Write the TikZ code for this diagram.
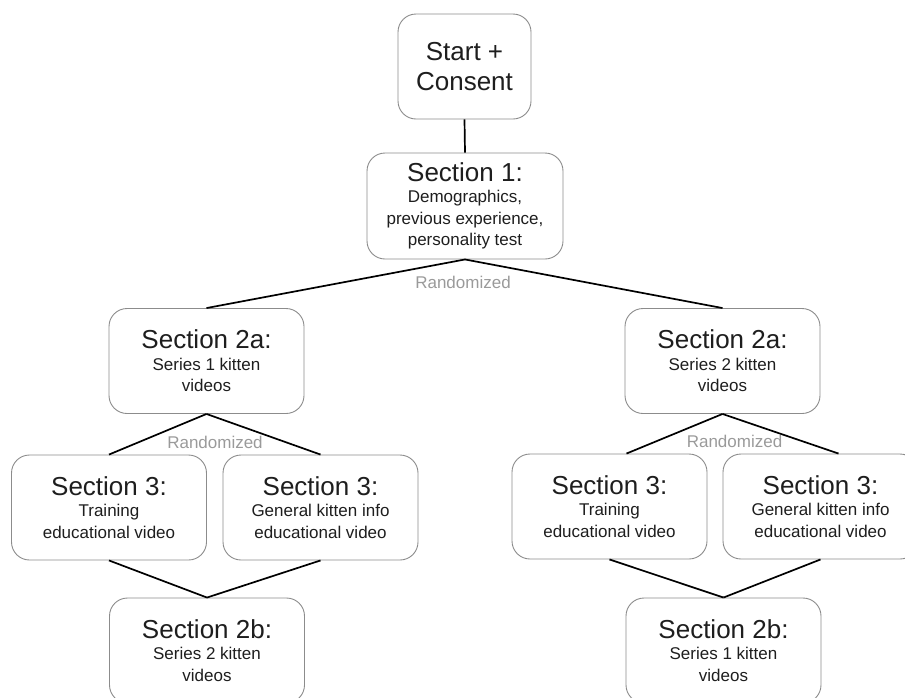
\documentclass[tikz,border=0pt]{standalone}
\usepackage{fontspec}
\setmainfont{Liberation Sans}
\definecolor{boxline}{HTML}{8C8C8C}
\definecolor{txt}{HTML}{1E1E1E}
\definecolor{randgray}{HTML}{9A9A9A}
\newcommand{\bigline}[1]{{\fontsize{26}{30}\selectfont #1}}
\begin{document}
\begin{tikzpicture}[x=1pt,y=-1pt,
  box/.style={draw=boxline, line width=0.9pt, rounded corners=18pt, fill=white,
    minimum width=195pt, minimum height=105pt, align=center, inner sep=0pt,
    text=txt, font=\fontsize{17}{21.5}\selectfont},
  conn/.style={line width=1.7pt, black},
  randlabel/.style={text=randgray, font=\fontsize{17}{20}\selectfont, anchor=base, inner sep=0pt}]
\useasboundingbox (0,0) rectangle (905,697);
\clip (0,0) rectangle (905,697);
% nodes
\node[box, minimum width=133pt, font=\fontsize{26}{30}\selectfont] (start) at (464.5,66.5) {Start +\\Consent};
\node[box, minimum width=196pt, minimum height=106pt] (s1) at (465,206) {\bigline{Section 1:}\\Demographics,\\previous experience,\\personality test};
\node[box] (s2aL) at (206.5,361) {\bigline{Section 2a:}\\Series 1 kitten\\videos};
\node[box] (s2aR) at (722.5,361) {\bigline{Section 2a:}\\Series 2 kitten\\videos};
\node[box] (s3LL) at (109,507.5) {\bigline{Section 3:}\\Training\\educational video};
\node[box] (s3LR) at (320.5,507.5) {\bigline{Section 3:}\\General kitten info\\educational video};
\node[box] (s3RL) at (609.5,506.5) {\bigline{Section 3:}\\Training\\educational video};
\node[box] (s3RR) at (820.5,506.5) {\bigline{Section 3:}\\General kitten info\\educational video};
\node[box] (s2bL) at (207,650.5) {\bigline{Section 2b:}\\Series 2 kitten\\videos};
\node[box] (s2bR) at (723.5,650.5) {\bigline{Section 2b:}\\Series 1 kitten\\videos};
% labels
\node[randlabel] (r1) at (463,288) {Randomized};
\node[randlabel] (r2) at (215,448) {Randomized};
\node[randlabel] (r3) at (734.5,447) {Randomized};
% connectors
\draw[conn] (start.south) -- (s1.north);
\draw[conn] (s1.south) -- (s2aL.north);
\draw[conn] (s1.south) -- (s2aR.north);
\draw[conn] (s2aL.south) -- (s3LL.north);
\draw[conn] (s2aL.south) -- (s3LR.north);
\draw[conn] (s2aR.south) -- ([xshift=17pt]s3RL.north);
\draw[conn] (s2aR.south) -- ([xshift=18pt]s3RR.north);
\draw[conn] (s3LL.south) -- (s2bL.north);
\draw[conn] (s3LR.south) -- (s2bL.north);
\draw[conn] (s3RL.south) -- (s2bR.north);
\draw[conn] (s3RR.south) -- (s2bR.north);
\end{tikzpicture}
\end{document}
